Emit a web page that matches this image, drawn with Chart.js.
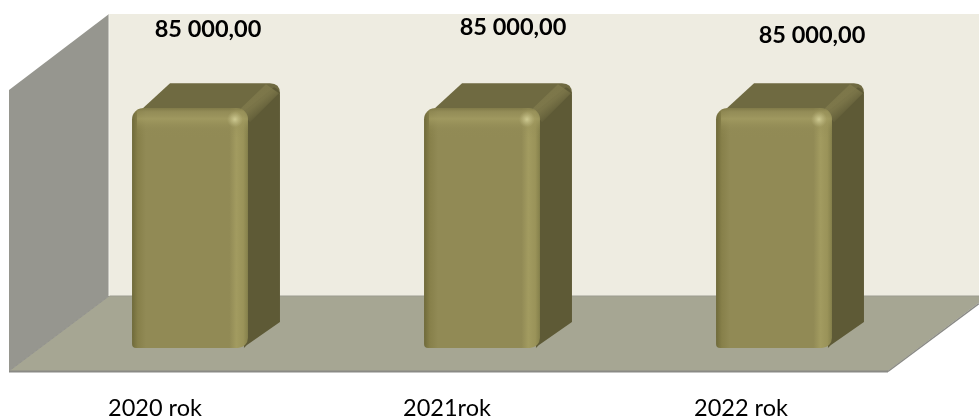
<!DOCTYPE html>
<html><head><meta charset="utf-8">
<style>html,body{margin:0;padding:0;background:#fff}canvas{display:block}</style>
<script src="https://cdn.jsdelivr.net/npm/chart.js@4"></script>
</head><body>
<canvas id="c" width="979" height="416" style="width:979px;height:416px"></canvas>
<script>
const categories = ['2020 rok', '2021rok', '2022 rok'];
const values = [85000, 85000, 85000];
const axisMax = 100000;
const tickNudgeX = [-35, -35, -33];
const valueNudgeX = [18, 31, 38];
const valueNudgeY = [-79, -81, -73];

const FONT = 'Lato, "Open Sans", sans-serif';
const BAR_PCT = 0.397;
const BAR_DX = 32, BAR_DY = -25;
const fmt = v => String(Math.round(v)).replace(/\B(?=(\d{3})+$)/g, ' ') + ',00';

function poly(ctx, pts, fill) {
  ctx.beginPath();
  pts.forEach((p, i) => i ? ctx.lineTo(p[0], p[1]) : ctx.moveTo(p[0], p[1]));
  ctx.closePath();
  ctx.fillStyle = fill;
  ctx.fill();
}
function line(ctx, a, b, color, w) {
  ctx.beginPath(); ctx.moveTo(a[0], a[1]); ctx.lineTo(b[0], b[1]);
  ctx.strokeStyle = color; ctx.lineWidth = w; ctx.stroke();
}

const tickShift = {
  id: 'tickShift',
  beforeDraw(chart) {
    const items = chart.scales.x.getLabelItems(chart.chartArea);
    items.forEach((it, i) => {
      if (!it.__done) { it.options.translation[0] += tickNudgeX[i]; it.__done = true; }
    });
  }
};

const box3d = {
  id: 'box3d',
  beforeDatasetsDraw(chart) {
    const { ctx, chartArea: a } = chart;
    const fy = a.bottom + 23, by = a.bottom - 52;
    const lx = a.left - 35, bx = a.left + 65;
    const ty = by - 282;
    ctx.save();
    poly(ctx, [[bx, ty], [979, ty], [979, by], [bx, by]], '#eeece1');
    poly(ctx, [[lx, fy], [bx, by], [bx, ty], [lx, ty + 76]], '#96968f');
    poly(ctx, [[lx, fy], [888, fy], [988, by], [bx, by]], '#a6a693');
    line(ctx, [bx, by], [979, by], '#9c9c90', 1);
    line(ctx, [lx, fy + 0.5], [888, fy + 0.5], '#8a8a85', 2);
    line(ctx, [888, fy + 0.5], [979, fy - 67.5], '#8a8a85', 1.5);
    line(ctx, [lx, fy], [bx, by], '#90908a', 1);
    line(ctx, [bx, ty], [bx, by], '#f4f3ec', 1);

    chart.getDatasetMeta(0).data.forEach(el => {
      const L = el.x - el.width / 2, R = el.x + el.width / 2, T = el.y, B = el.base;
      const dx = BAR_DX, dy = BAR_DY;
      // top face
      ctx.beginPath();
      ctx.moveTo(L + 1, T + 9);
      ctx.lineTo(L + 6 + dx, T + dy);
      ctx.lineTo(R + dx - 10, T + dy);
      ctx.quadraticCurveTo(R + dx, T + dy, R + dx, T + dy + 10);
      ctx.lineTo(R, T + 12);
      ctx.closePath();
      ctx.fillStyle = '#6f6a41';
      ctx.fill();
      // right face
      ctx.beginPath();
      ctx.moveTo(R - 4, T + 3);
      ctx.lineTo(R + dx - 6, T + dy + 4);
      ctx.quadraticCurveTo(R + dx, T + dy + 6, R + dx, T + dy + 12);
      ctx.lineTo(R + dx, B - 26);
      ctx.lineTo(R - 1, B - 3);
      ctx.lineTo(R - 4, B);
      ctx.closePath();
      ctx.fillStyle = '#5e5a36';
      ctx.fill();
      // lit corner ridge
      const rg = ctx.createLinearGradient(R + 8, T - 4, R + 16, T + 6);
      rg.addColorStop(0, 'rgba(128,122,76,0.8)');
      rg.addColorStop(1, 'rgba(128,122,76,0)');
      ctx.beginPath();
      ctx.moveTo(R - 8, T + 1);
      ctx.lineTo(R + dx - 14, T + dy + 1);
      ctx.lineTo(R + dx - 1, T + dy + 10);
      ctx.lineTo(R + 2, T + 14);
      ctx.closePath();
      ctx.fillStyle = rg;
      ctx.fill();
    });
    ctx.restore();
  },
  afterDatasetsDraw(chart) {
    const { ctx } = chart;
    const data = chart.data.datasets[0].data;
    ctx.save();
    chart.getDatasetMeta(0).data.forEach((el, i) => {
      const L = el.x - el.width / 2, R = el.x + el.width / 2, T = el.y, B = el.base;
      ctx.save();
      ctx.beginPath();
      ctx.roundRect(L, T, R - L, B - T, [11, 11, 10, 4]);
      ctx.clip();
      const tg = ctx.createLinearGradient(0, T, 0, T + 30);
      tg.addColorStop(0, 'rgba(122,116,66,0.75)');
      tg.addColorStop(0.12, 'rgba(150,143,90,0.5)');
      tg.addColorStop(0.35, 'rgba(166,159,100,0.7)');
      tg.addColorStop(0.75, 'rgba(148,141,86,0.15)');
      tg.addColorStop(1, 'rgba(148,141,86,0)');
      ctx.fillStyle = tg;
      ctx.fillRect(L + 5, T, R - L - 5, 30);
      const sp = ctx.createRadialGradient(R - 13, T + 11, 0, R - 13, T + 11, 8);
      sp.addColorStop(0, 'rgba(206,202,146,1)');
      sp.addColorStop(1, 'rgba(190,184,130,0)');
      ctx.fillStyle = sp;
      ctx.fillRect(R - 24, T, 24, 24);
      ctx.restore();

      ctx.font = 'bold 23.5px ' + FONT;
      ctx.fillStyle = '#000';
      ctx.textAlign = 'center';
      ctx.textBaseline = 'middle';
      ctx.fillText(fmt(data[i]), el.x + valueNudgeX[i], T + valueNudgeY[i]);
    });
    ctx.restore();
  }
};

new Chart(document.getElementById('c'), {
  type: 'bar',
  data: {
    labels: categories,
    datasets: [{
      data: values,
      barPercentage: BAR_PCT,
      categoryPercentage: 1,
      borderSkipped: false,
      borderWidth: 0,
      borderRadius: { topLeft: 11, topRight: 11, bottomLeft: 4, bottomRight: 10 },
      backgroundColor(c) {
        const chart = c.chart;
        if (!chart.chartArea || c.dataIndex === undefined) return '#918a55';
        const s = chart.scales.x;
        const half = s.width / categories.length * BAR_PCT / 2;
        const x = s.getPixelForValue(c.dataIndex);
        const g = chart.ctx.createLinearGradient(x - half, 0, x + half, 0);
        g.addColorStop(0, '#6f6a3a');
        g.addColorStop(0.05, '#87804a');
        g.addColorStop(0.12, '#918a55');
        g.addColorStop(0.84, '#918a55');
        g.addColorStop(0.90, '#a29b60');
        g.addColorStop(0.96, '#9a9359');
        g.addColorStop(1, '#85804b');
        return g;
      }
    }]
  },
  options: {
    responsive: false,
    animation: false,
    events: [],
    layout: { padding: { left: 44, right: 59, top: 66, bottom: 0 } },
    plugins: { legend: { display: false }, tooltip: { enabled: false }, title: { display: false } },
    scales: {
      x: {
        offset: true,
        grid: { display: false, drawTicks: false },
        border: { display: false },
        afterFit(s) { s.height = 68; },
        ticks: {
          color: '#000', maxRotation: 0, padding: 46,
          font: { family: FONT, size: 23.5 }
        }
      },
      y: { display: false, min: 0, max: axisMax }
    }
  },
  plugins: [tickShift, box3d]
});
</script>
</body></html>
